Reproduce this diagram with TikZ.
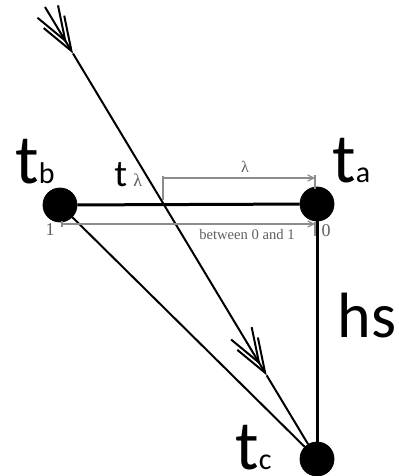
\documentclass[tikz,border=0pt]{standalone}
\usepackage{fontspec}
\setmainfont{Liberation Serif}
\newfontfamily\labelfont{Carlito}
\usetikzlibrary{positioning,arrows.meta,calc}
\definecolor{dimgray}{RGB}{140,140,140}
\definecolor{dimtext}{RGB}{95,95,95}
\newcommand{\lsub}[1]{{\fontsize{15}{15}\selectfont #1}}

\begin{document}
\begin{tikzpicture}[x=0.5pt,y=-0.5pt,
    vertex/.style={circle, fill=black, draw=black, minimum size=17pt, inner sep=0pt},
    bar/.style={line width=1.5pt},
    edge/.style={line width=1pt},
    ray/.style={line width=1pt, -{Straight Barb[length=17pt,width=12pt,line width=1pt,sep=-13pt]Straight Barb[length=17pt,width=12pt,line width=1pt]}},
    dim/.style={dimgray, line width=0.6pt},
    dimlab/.style={dimtext, font=\fontsize{7.3}{8}\selectfont, inner sep=0pt},
    biglab/.style={anchor=base west, inner sep=0pt, font=\labelfont\fontsize{35}{35}\selectfont}]
\useasboundingbox (0,0) rectangle (398,476);
% the three points
\node[vertex] (tb) at (60,205) {};
\node[vertex] (ta) at (317,204) {};
\node[vertex] (tc) at (317,459) {};
\node[biglab] (tblab) at (15,183) {t\lsub{b}};
\node[biglab] (talab) at (332,182) {t\lsub{a}};
\node[biglab] (tclab) at (235,469) {\smash{t\lsub{c}}};
\node[biglab, font=\labelfont\fontsize{32}{32}\selectfont] (hslab) at (337,337) {hs};
% sides
\draw[bar] (tb) -- (ta);
\draw[bar] (ta) -- (tc);
\draw[edge] (tb) -- (tc);
% incoming ray
\coordinate (src) at (45,7);
\coordinate (h1) at ($(src)!0.103!(tc)$);
\coordinate (h2) at ($(src)!0.815!(tc)$);
\draw[ray] (src) -- (h1);
\draw[ray] (h1) -- (h2);
\draw[edge] (h2) -- (tc);
\node[anchor=base west, inner sep=0pt, font=\labelfont\fontsize{19}{19}\selectfont] (tlam) at (114,186)
  {t\,{\color{dimtext}\fontsize{9}{9}\selectfont\rmfamily λ}};
% lambda span
\coordinate (lamL) at (163,178);
\coordinate (lamR) at (315,178);
\draw[dim, -{Straight Barb[length=3pt,width=3pt]}] (lamL) -- (lamR);
\draw[dim] (163,176) -- (163,200);
\draw[dim] (315,175) -- (315,189);
\node[dimlab, font=\fontsize{8}{8}\selectfont] (lam) at (245,167) {λ};
% parameter span
\coordinate (parL) at (62,224);
\coordinate (parR) at (315,224);
\draw[dim, -{Straight Barb[length=3pt,width=3pt]}] (parL) -- (parR);
\draw[dim] (62,221) -- (62,227);
\draw[dim] (315,222) -- (315,236);
\node[dimlab] (par) at (247,235) {between 0 and 1};
\node[dimlab, font=\fontsize{9}{10}\selectfont] (one) at (50,230) {1};
\node[dimlab, font=\fontsize{9}{10}\selectfont] (zero) at (326,231) {0};
\end{tikzpicture}
\end{document}
